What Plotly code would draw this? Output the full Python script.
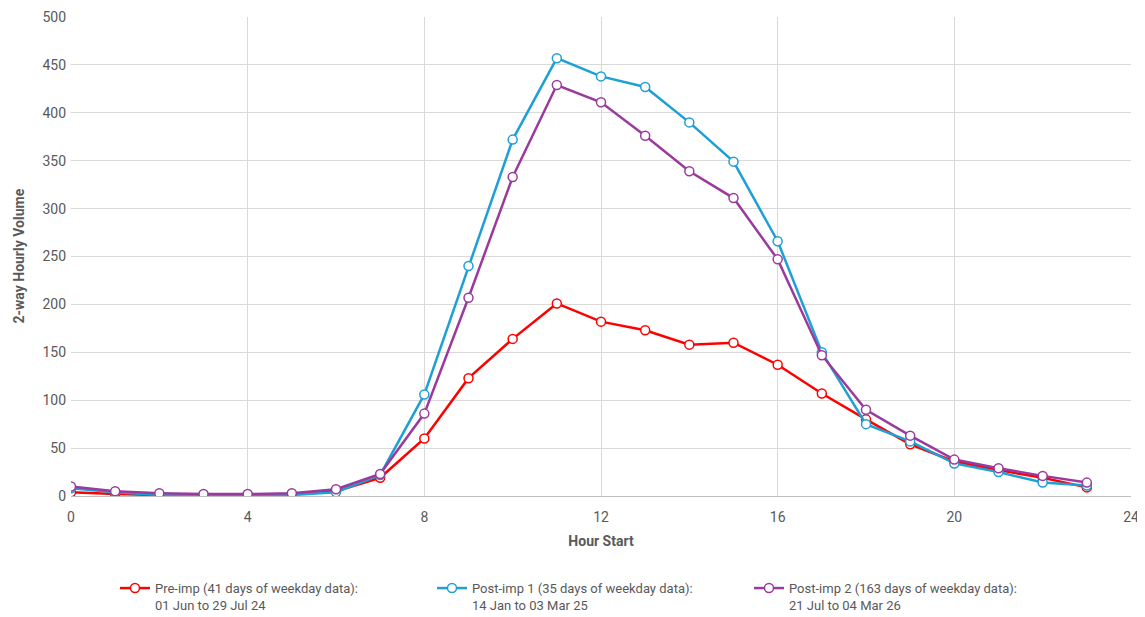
import plotly.graph_objects as go

hours = list(range(24))
pre_imp = [4, 2, 1, 0.5, 1, 2, 5, 19, 60, 123, 164, 201, 182, 173, 158, 160, 137, 107, 80, 54, 36, 27, 19, 9]
post_imp1 = [8, 4, 1, 1, 1, 1, 4, 22, 106, 240, 372, 457, 438, 427, 390, 349, 266, 150, 75, 57, 34, 25, 14, 11]
post_imp2 = [10, 5, 3, 2, 2, 3, 7, 23, 86, 207, 333, 429, 411, 376, 339, 311, 247, 147, 90, 63, 38, 29, 21, 14]

names = [
    "Pre-imp (41 days of weekday data):<br>01 Jun to 29 Jul 24",
    "Post-imp 1 (35 days of weekday data):<br>14 Jan to 03 Mar 25",
    "Post-imp 2 (163 days of weekday data):<br>21 Jul to 04 Mar 26",
]
colors = ["#FF0000", "#1E9FD6", "#9A3A9C"]
series = [pre_imp, post_imp1, post_imp2]

FONT = "Roboto"
fig = go.Figure()
for s, n, c in zip(series, names, colors):
    fig.add_trace(go.Scatter(
        x=hours, y=s, name=n, mode="lines+markers",
        line=dict(color=c, width=2.5),
        marker=dict(symbol="circle", size=9, color="white", line=dict(color=c, width=1.5)),
    ))

fig.add_annotation(
    text="<b>2-way Hourly Volume</b>", textangle=-90, xref="paper", yref="paper",
    x=-0.05, y=0.5, xanchor="center", yanchor="middle", showarrow=False,
    font=dict(family=FONT, size=14, color="#595959"),
)

fig.update_layout(
    width=1145, height=617,
    margin=dict(l=63, r=22, t=9, b=129, autoexpand=False),
    paper_bgcolor="white", plot_bgcolor="white",
    font=dict(family=FONT, size=13, color="#595959"),
    showlegend=True,
    legend=dict(
        orientation="h", x=0.0415, xanchor="left", y=-0.161, yanchor="top",
        entrywidth=272, entrywidthmode="pixels", valign="top",
        font=dict(family=FONT, size=13, color="#595959"),
        itemwidth=30, tracegroupgap=0,
    ),
    xaxis=dict(
        range=[0, 24], tickvals=[0, 4, 8, 12, 16, 20, 24], showgrid=True,
        gridcolor="#D9D9D9", gridwidth=1, zeroline=False,
        showline=True, linecolor="#BFBFBF", linewidth=1, mirror=False,
        ticks="", ticklabelstandoff=8, tickfont=dict(size=14, color="#595959"),
        title=dict(text="<b>Hour Start</b>", font=dict(size=14, color="#595959"), standoff=12),
    ),
    yaxis=dict(
        range=[0, 500], tickvals=list(range(0, 501, 50)), showgrid=True,
        gridcolor="#D9D9D9", gridwidth=1, zeroline=False,
        showline=False, ticks="", ticklabelstandoff=4, tickfont=dict(size=14, color="#595959"),
    ),
)

fig.write_html("out.html")
